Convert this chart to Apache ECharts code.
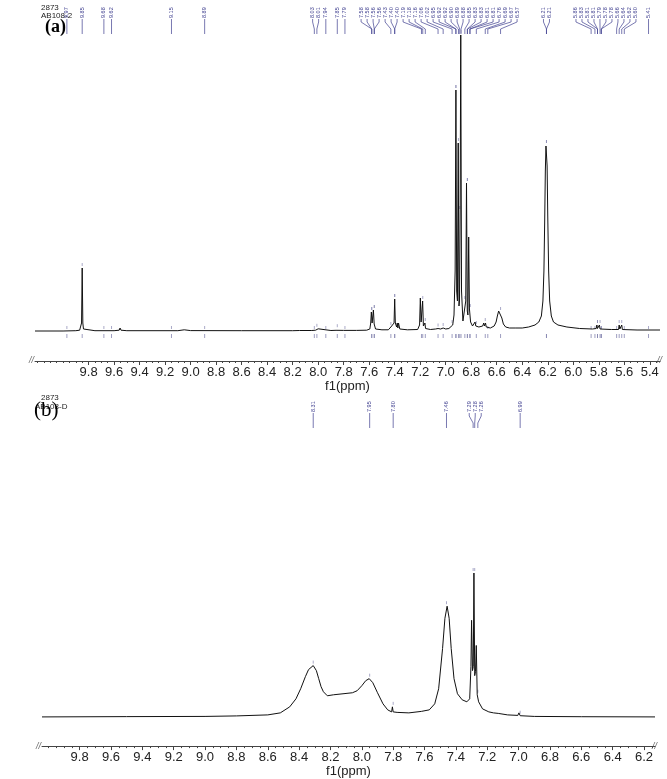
<!DOCTYPE html>
<html>
<head>
<meta charset="utf-8">
<script src="https://cdn.jsdelivr.net/npm/echarts@6/dist/echarts.min.js"></script>
<style>
  html, body { margin: 0; padding: 0; background: #fff; }
  #chart { width: 667px; height: 779px; }
</style>
</head>
<body>
<div id="chart"></div>
<script>
// spectrum (a): [ppm, intensity]
const spectrumA = [
  [10.22, 0], [10.0, 0], [9.9, 0.3], [9.87, 0.8], [9.86, 2], [9.855, 8], [9.85, 63], [9.845, 8], [9.84, 2],
  [9.83, 0.8], [9.75, 0.3], [9.6, 0.3], [9.56, 0.8], [9.553, 3], [9.546, 0.8], [9.5, 0.3], [9.1, 0.3],
  [9.05, 1.2], [9.0, 0.4], [8.6, 0.3], [8.2, 0.3], [8.145, 0.5], [8.14, 1.8], [8.135, 0.5], [8.05, 0.5],
  [8.02, 0.8], [8.013, 2.2], [8.007, 0.9], [8.0, 2.2], [7.993, 0.6], [7.9, 0.5], [7.86, 0.7], [7.853, 1.8],
  [7.846, 0.7], [7.8, 0.6], [7.7, 0.6], [7.62, 0.8], [7.595, 2], [7.588, 8], [7.583, 19], [7.577, 8],
  [7.572, 8], [7.567, 21], [7.561, 7], [7.55, 2], [7.5, 1.2], [7.45, 1.2], [7.435, 2.5], [7.43, 4],
  [7.42, 2], [7.405, 8], [7.4, 32], [7.395, 8], [7.385, 4], [7.38, 8], [7.375, 3], [7.37, 8], [7.36, 2],
  [7.3, 1.2], [7.22, 1.5], [7.205, 6], [7.199, 33], [7.193, 9], [7.187, 9], [7.181, 30], [7.175, 5],
  [7.168, 3], [7.163, 8], [7.158, 2.5], [7.12, 1.5], [7.08, 2], [7.06, 2.5], [7.04, 2], [7.02, 3],
  [7.0, 2], [6.975, 2.5], [6.96, 3], [6.945, 6], [6.935, 16], [6.926, 60], [6.92, 241], [6.914, 40],
  [6.908, 30], [6.902, 188], [6.896, 25], [6.892, 30], [6.887, 120], [6.882, 296], [6.876, 40],
  [6.865, 10], [6.85, 9], [6.843, 30], [6.837, 148], [6.831, 20], [6.826, 16], [6.82, 94], [6.814, 22],
  [6.805, 9], [6.79, 5], [6.775, 7], [6.77, 9], [6.764, 5], [6.74, 4], [6.71, 5], [6.702, 8], [6.696, 5],
  [6.688, 8], [6.682, 4], [6.65, 3], [6.62, 5], [6.605, 9], [6.595, 15], [6.585, 20], [6.578, 21],
  [6.57, 19], [6.56, 13], [6.548, 7], [6.53, 4], [6.5, 3], [6.45, 3], [6.4, 3], [6.35, 4], [6.3, 6],
  [6.27, 9], [6.25, 15], [6.238, 30], [6.23, 60], [6.224, 110], [6.219, 160], [6.214, 185], [6.21, 186],
  [6.205, 165], [6.2, 115], [6.193, 60], [6.185, 30], [6.172, 15], [6.155, 9], [6.12, 6], [6.05, 4],
  [5.95, 2.5], [5.85, 2], [5.82, 2.5], [5.815, 6], [5.81, 2.5], [5.8, 2.5], [5.795, 6], [5.79, 2],
  [5.7, 1.5], [5.645, 1.5], [5.64, 6], [5.635, 2], [5.625, 2], [5.62, 6], [5.615, 1.5], [5.5, 1], [5.32, 1]
];

// spectrum (b): [ppm, intensity]
const spectrumB = [
  [10.04, 0], [9.5, 0.3], [9.0, 0.5], [8.8, 1], [8.6, 2], [8.52, 4], [8.46, 10], [8.42, 18], [8.39, 28],
  [8.36, 40], [8.34, 47], [8.31, 51], [8.29, 46], [8.275, 38], [8.26, 30], [8.245, 25], [8.22, 21],
  [8.18, 22], [8.12, 23], [8.06, 24], [8.03, 26], [8.0, 31], [7.975, 36], [7.953, 38], [7.93, 34],
  [7.9, 24], [7.865, 13], [7.835, 7], [7.81, 5], [7.805, 10], [7.8, 5], [7.775, 4.5], [7.7, 4],
  [7.62, 5.5], [7.57, 7], [7.535, 13], [7.51, 28], [7.485, 68], [7.47, 98], [7.456, 110], [7.443, 98],
  [7.43, 68], [7.412, 38], [7.39, 23], [7.36, 17], [7.33, 15], [7.312, 18], [7.304, 50], [7.3, 96],
  [7.294, 46], [7.289, 50], [7.285, 143], [7.28, 41], [7.275, 45], [7.27, 71], [7.264, 22], [7.255, 15],
  [7.23, 8], [7.19, 5], [7.16, 4], [7.13, 3.5], [7.07, 2], [7.005, 1.5], [6.998, 4], [6.99, 1.2],
  [6.9, 0.5], [6.6, 0.2], [6.13, 0]
];

// picked-peak labels
const peaksA = [
  9.97, 9.85, 9.68, 9.62, 9.15, 8.89, 8.03, 8.01, 7.94, 7.85, 7.79,
  7.58, 7.58, 7.56, 7.56, 7.43, 7.40, 7.40, 7.19, 7.18, 7.16, 7.06, 7.02, 6.95,
  6.92, 6.92, 6.90, 6.89, 6.88, 6.85, 6.83, 6.83, 6.81, 6.81, 6.76, 6.69, 6.67, 6.57,
  6.21, 6.21, 5.86, 5.83, 5.81, 5.81, 5.79, 5.78, 5.78, 5.66, 5.64, 5.62, 5.60, 5.41
];
const peaksB = [8.31, 7.95, 7.80, 7.46, 7.29, 7.28, 7.26, 6.99];

// axis tick labels
const ticksA = [9.8, 9.6, 9.4, 9.2, 9.0, 8.8, 8.6, 8.4, 8.2, 8.0, 7.8, 7.6, 7.4, 7.2, 7.0, 6.8, 6.6, 6.4, 6.2, 6.0, 5.8, 5.6, 5.4];
const ticksB = [9.8, 9.6, 9.4, 9.2, 9.0, 8.8, 8.6, 8.4, 8.2, 8.0, 7.8, 7.6, 7.4, 7.2, 7.0, 6.8, 6.6, 6.4, 6.2];

const rangeA = [5.32, 10.22];
const rangeB = [6.13, 10.04];

const LABEL_COLOR = '#3f3f8f';
const MARK_COLOR = '#8585b0';
const LABEL_GAP = 6;

function minorTicks(lo, hi, step) {
  const out = [];
  for (let v = Math.ceil(lo / step) * step; v <= hi + 1e-9; v += step) {
    out.push(Math.round(v * 100) / 100);
  }
  return out;
}

// spread overlapping labels apart, keeping each cluster centred on its peaks
function spread(xs, gap) {
  const groups = [];
  xs.forEach((x) => {
    groups.push({ pos: x, n: 1, sum: x });
    while (groups.length > 1) {
      const b = groups[groups.length - 1];
      const a = groups[groups.length - 2];
      if (a.pos + a.n * gap > b.pos) {
        const n = a.n + b.n;
        const sum = a.sum + b.sum;
        groups.splice(groups.length - 2, 2, { pos: sum / n - (n - 1) * gap / 2, n, sum });
      } else {
        break;
      }
    }
  });
  const res = [];
  groups.forEach((g) => {
    for (let i = 0; i < g.n; i++) res.push(g.pos + i * gap);
  });
  return res;
}

function peakTop(spec, p) {
  let best = 0;
  spec.forEach(([x, y]) => {
    if (Math.abs(x - p) <= 0.008 && y > best) best = y;
  });
  return best;
}

function labelBand(peaks) {
  return function (params, api) {
    const ctx = params.context;
    if (!ctx.lx) {
      ctx.px = peaks.map((p) => api.coord([p, 0])[0]);
      ctx.lx = spread(ctx.px, LABEL_GAP);
    }
    const i = params.dataIndex;
    const cs = params.coordSys;
    const top = cs.y;
    const bottom = cs.y + cs.height;
    const lx = ctx.lx[i];
    const px = ctx.px[i];
    const textBottom = top + 15;
    return {
      type: 'group',
      children: [
        {
          type: 'text',
          x: lx,
          y: textBottom,
          rotation: Math.PI / 2,
          style: {
            text: peaks[i].toFixed(2),
            fontSize: 5.5,
            fontFamily: 'Liberation Sans',
            fill: LABEL_COLOR,
            align: 'left',
            verticalAlign: 'middle'
          }
        },
        {
          type: 'polyline',
          shape: { points: [[lx, textBottom + 1], [lx, textBottom + 4], [px, bottom - 5], [px, bottom]] },
          style: { stroke: LABEL_COLOR, lineWidth: 0.7, fill: null }
        }
      ]
    };
  };
}

function peakMarks(spec, peaks, below) {
  return function (params, api) {
    const p = peaks[params.dataIndex];
    const topPt = api.coord([p, peakTop(spec, p)]);
    const children = [{
      type: 'line',
      shape: { x1: topPt[0], y1: topPt[1] - 2, x2: topPt[0], y2: topPt[1] - 5 },
      style: { stroke: MARK_COLOR, lineWidth: 0.7 }
    }];
    if (below) {
      const base = api.coord([p, 0]);
      children.push({
        type: 'line',
        shape: { x1: base[0], y1: base[1] + 3, x2: base[0], y2: base[1] + 7 },
        style: { stroke: MARK_COLOR, lineWidth: 0.8 }
      });
    }
    return { type: 'group', children };
  };
}

function mainAxis(gridIndex, range, ticks) {
  return {
    type: 'value',
    gridIndex,
    position: 'bottom',
    min: range[0],
    max: range[1],
    inverse: true,
    axisLine: { show: true, onZero: false, lineStyle: { color: '#444', width: 1 } },
    axisTick: { show: true, customValues: ticks, length: 4, lineStyle: { color: '#444' } },
    axisLabel: {
      customValues: ticks,
      formatter: (v) => v.toFixed(1),
      fontSize: 13,
      fontFamily: 'Liberation Sans',
      color: '#222',
      margin: 5
    },
    splitLine: { show: false },
    name: 'f1(ppm)',
    nameLocation: 'middle',
    nameGap: 18,
    nameTextStyle: { fontSize: 13, fontFamily: 'Liberation Sans', color: '#222' }
  };
}

function minorAxis(gridIndex, range) {
  return {
    type: 'value',
    gridIndex,
    position: 'bottom',
    min: range[0],
    max: range[1],
    inverse: true,
    axisLine: { show: false, onZero: false },
    axisTick: { show: true, customValues: minorTicks(range[0], range[1], 0.05), length: 2, lineStyle: { color: '#444' } },
    axisLabel: { show: false },
    splitLine: { show: false }
  };
}

function bandAxis(gridIndex, range) {
  return { type: 'value', gridIndex, min: range[0], max: range[1], inverse: true, show: false };
}

const chart = echarts.init(document.getElementById('chart'));

chart.setOption({
  animation: false,
  backgroundColor: '#fff',
  grid: [
    { left: 35, right: 7, top: 3, height: 31 },
    { left: 35, right: 7, top: 35, bottom: 418 },
    { left: 42, right: 12, top: 397, height: 31 },
    { left: 42, right: 12, top: 573, bottom: 32 }
  ],
  xAxis: [
    bandAxis(0, rangeA),
    mainAxis(1, rangeA, ticksA),
    minorAxis(1, rangeA),
    bandAxis(2, rangeB),
    mainAxis(3, rangeB, ticksB),
    minorAxis(3, rangeB)
  ],
  yAxis: [
    { type: 'value', gridIndex: 0, min: 0, max: 1, show: false },
    { type: 'value', gridIndex: 1, min: -30, max: 296, show: false },
    { type: 'value', gridIndex: 2, min: 0, max: 1, show: false },
    { type: 'value', gridIndex: 3, min: -29, max: 143, show: false }
  ],
  graphic: [
    { type: 'text', left: 41, top: 4, style: { text: '2873', fontSize: 8, fontFamily: 'Liberation Sans', fill: '#222' } },
    { type: 'text', left: 41, top: 12, style: { text: 'AB108-2', fontSize: 8, fontFamily: 'Liberation Sans', fill: '#222' } },
    { type: 'text', left: 45, top: 18, style: { text: '(a)', fontSize: 18, fontWeight: 'bold', fontFamily: 'Liberation Serif', fill: '#000' } },
    { type: 'text', left: 41, top: 394, style: { text: '2873', fontSize: 8, fontFamily: 'Liberation Sans', fill: '#222' } },
    { type: 'text', left: 35, top: 403, style: { text: 'AB108-D', fontSize: 8, fontFamily: 'Liberation Sans', fill: '#222' } },
    { type: 'text', left: 34, top: 400, style: { text: '(b)', fontSize: 21, fontFamily: 'Liberation Serif', fill: '#000' } },
    { type: 'text', left: 29, top: 356, style: { text: '//', fontSize: 9, fontStyle: 'italic', fontFamily: 'Liberation Sans', fill: '#666' } },
    { type: 'text', left: 657, top: 356, style: { text: '//', fontSize: 9, fontStyle: 'italic', fontFamily: 'Liberation Sans', fill: '#666' } },
    { type: 'text', left: 36, top: 742, style: { text: '//', fontSize: 9, fontStyle: 'italic', fontFamily: 'Liberation Sans', fill: '#666' } },
    { type: 'text', left: 652, top: 742, style: { text: '//', fontSize: 9, fontStyle: 'italic', fontFamily: 'Liberation Sans', fill: '#666' } }
  ],
  series: [
    {
      type: 'line',
      xAxisIndex: 1,
      yAxisIndex: 1,
      data: spectrumA,
      showSymbol: false,
      lineStyle: { color: '#111', width: 1 },
      z: 3
    },
    {
      type: 'line',
      xAxisIndex: 4,
      yAxisIndex: 3,
      data: spectrumB,
      showSymbol: false,
      lineStyle: { color: '#111', width: 1 },
      z: 3
    },
    {
      type: 'custom',
      xAxisIndex: 0,
      yAxisIndex: 0,
      data: peaksA.map((p) => [p, 0]),
      renderItem: labelBand(peaksA),
      clip: false
    },
    {
      type: 'custom',
      xAxisIndex: 3,
      yAxisIndex: 2,
      data: peaksB.map((p) => [p, 0]),
      renderItem: labelBand(peaksB),
      clip: false
    },
    {
      type: 'custom',
      xAxisIndex: 1,
      yAxisIndex: 1,
      data: peaksA.map((p) => [p, 0]),
      renderItem: peakMarks(spectrumA, peaksA, true),
      clip: false
    },
    {
      type: 'custom',
      xAxisIndex: 4,
      yAxisIndex: 3,
      data: peaksB.map((p) => [p, 0]),
      renderItem: peakMarks(spectrumB, peaksB, false),
      clip: false
    }
  ]
});
</script>
</body>
</html>
